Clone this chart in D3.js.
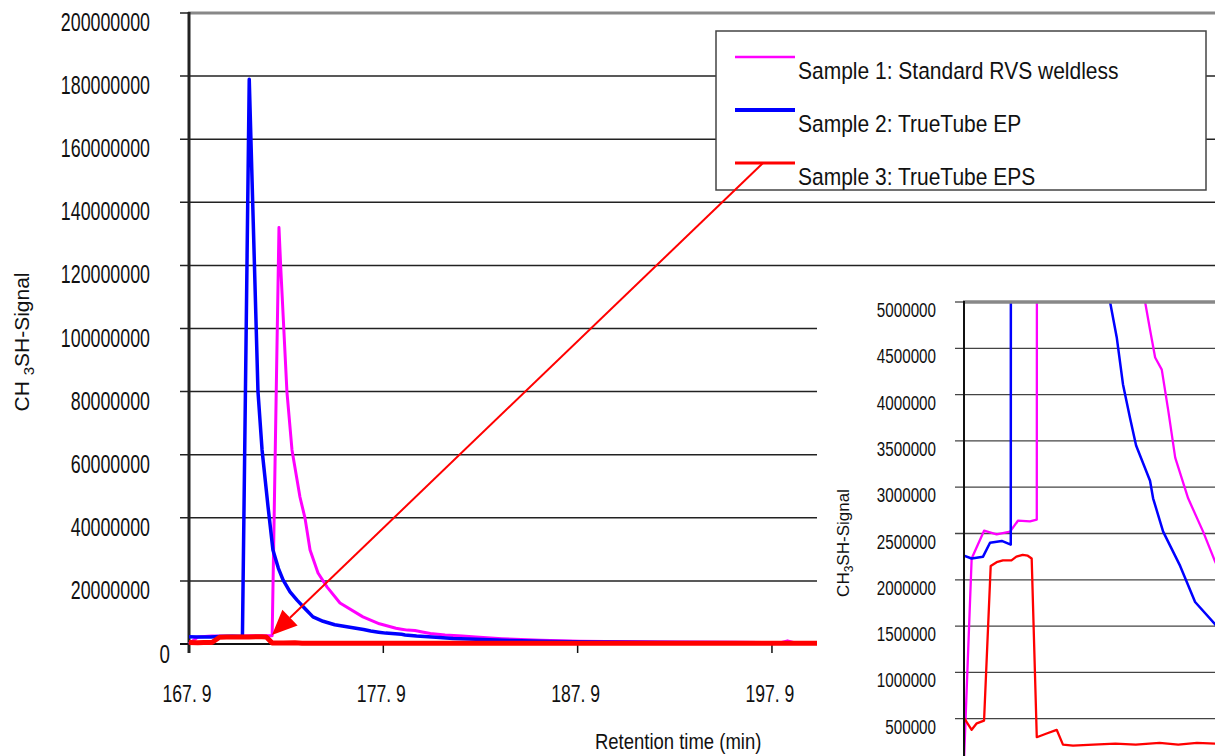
<!DOCTYPE html>
<html>
<head>
<meta charset="utf-8">
<script src="https://cdn.jsdelivr.net/npm/d3@7"></script>
<style>
body { margin: 0; background: #fff; }
text { font-family: "Liberation Sans", Arial, sans-serif; fill: #111; }
</style>
</head>
<body>
<div id="container"></div>
<script>
let w = 1215;
let h = 756;

let seriesNames = ["Sample 1: Standard RVS weldless", "Sample 2: TrueTube EP", "Sample 3: TrueTube EPS"];

// [retention time (min), CH3SH signal]
let sample1 = [
  [167.9, 50000], [168.35, 2230000], [169.08, 2530000], [169.82, 2490000], [170.61, 2520000],
  [171.08, 2640000], [171.78, 2630000], [172.18, 2650000], [172.53, 132000000], [172.62, 119500000],
  [172.94, 79900000], [173.2, 61500000], [173.61, 46600000], [173.87, 39900000], [174.13, 29800000],
  [174.54, 22500000], [175.0, 18100000], [175.67, 13000000], [176.85, 8600000], [177.7, 6400000],
  [178.55, 5000000], [178.84, 4700000], [179.14, 4400000], [179.53, 4270000], [179.91, 3830000],
  [180.32, 3320000], [181.08, 2880000], [181.96, 2520000], [182.66, 2200000], [184.0, 1700000],
  [186.0, 1200000], [188.0, 900000], [192.0, 650000], [196.0, 520000], [198.4, 500000],
  [198.7, 1000000], [199.0, 500000], [201.5, 450000]
];

let sample2 = [
  [167.9, 2260000], [168.35, 2230000], [169.02, 2250000], [169.43, 2400000], [170.12, 2420000],
  [170.65, 2380000], [171.0, 179000000], [171.45, 80000000], [171.66, 61500000], [171.97, 43400000],
  [172.22, 29800000], [172.5, 24000000], [172.74, 20300000], [173.1, 16500000], [173.46, 13900000],
  [173.9, 11000000], [174.28, 8600000], [174.8, 7200000], [175.4, 6100000], [176.49, 5000000],
  [176.88, 4620000], [177.25, 4110000], [177.66, 3750000], [178.02, 3450000], [178.84, 3070000],
  [179.02, 2880000], [179.61, 2520000], [180.61, 2150000], [181.49, 1760000], [182.66, 1520000],
  [184.5, 1100000], [186.5, 800000], [189.0, 600000], [193.0, 450000], [201.5, 380000]
];

let sample3 = [
  [167.9, 510000], [168.35, 380000], [168.65, 450000], [169.08, 480000], [169.47, 2150000],
  [169.82, 2190000], [170.19, 2210000], [170.69, 2210000], [170.98, 2250000], [171.35, 2270000],
  [171.65, 2260000], [171.88, 2230000], [172.18, 300000], [172.76, 340000], [173.35, 380000],
  [173.72, 220000], [174.31, 210000], [175.5, 220000], [176.8, 230000], [178.0, 220000],
  [179.4, 240000], [180.5, 220000], [181.6, 240000], [182.66, 230000], [186.0, 220000],
  [190.0, 220000], [195.0, 220000], [201.5, 220000]
];

let mainYTicks = [0, 20000000, 40000000, 60000000, 80000000, 100000000, 120000000, 140000000, 160000000, 180000000, 200000000];
let mainXTicks = [167.9, 177.9, 187.9, 197.9];
let insetYTicks = [500000, 1000000, 1500000, 2000000, 2500000, 3000000, 3500000, 4000000, 4500000, 5000000];

let colors = ["#ff00ff", "#0000ff", "#ff0000"];
let series = [sample1, sample2, sample3];

let svg = d3.select("#container").append("svg")
            .attr("width", w)
            .attr("height", h);

svg.append("rect").attr("width", w).attr("height", h).attr("fill", "#fff");

function label(sel, str, px, py, o) {
  return sel.append("text")
            .attr("transform", `translate(${px},${py})` + (o.rot ? ` rotate(${o.rot})` : "") + ` scale(${o.sx || 1},${o.sy || 1})`)
            .attr("text-anchor", o.anchor || "start")
            .style("font-size", o.size + "px")
            .text(str);
}

// ---- main chart ----
let x = d3.scaleLinear().domain([167.9, 220.7]).range([189, w]);
let y = d3.scaleLinear().domain([0, 200000000]).range([644, 13]);

let main = svg.append("g");

main.selectAll(".grid")
    .data(mainYTicks.filter(d => d > 0 && d < 200000000))
    .enter()
    .append("line")
    .attr("x1", 180).attr("x2", w)
    .attr("y1", d => y(d)).attr("y2", d => y(d))
    .attr("stroke", "#222")
    .attr("stroke-width", 1.5);

main.append("line")
    .attr("x1", 180).attr("x2", 189)
    .attr("y1", y(200000000)).attr("y2", y(200000000))
    .attr("stroke", "#222").attr("stroke-width", 1.5);

main.append("line")
    .attr("x1", 188).attr("x2", w)
    .attr("y1", y(200000000)).attr("y2", y(200000000))
    .attr("stroke", "#888").attr("stroke-width", 3);

main.append("line")
    .attr("x1", 180).attr("x2", w)
    .attr("y1", y(0)).attr("y2", y(0))
    .attr("stroke", "#111").attr("stroke-width", 2);

main.selectAll(".xtick")
    .data(mainXTicks)
    .enter()
    .append("line")
    .attr("x1", d => x(d)).attr("x2", d => x(d))
    .attr("y1", y(0)).attr("y2", y(0) + 9)
    .attr("stroke", "#111").attr("stroke-width", 1.5);

main.append("line")
    .attr("x1", 189).attr("x2", 189)
    .attr("y1", y(200000000) - 1).attr("y2", y(0) + 9)
    .attr("stroke", "#222").attr("stroke-width", 3);

mainYTicks.forEach(d => {
  if (d === 0) {
    label(main, "0", 170, y(d) + 19, {size: 22, sx: 0.85, sy: 1.14, anchor: "end"});
  } else {
    label(main, d3.format("d")(d), 150, y(d) + 18, {size: 22, sx: 0.81, sy: 1.14, anchor: "end"});
  }
});

mainXTicks.forEach(d => {
  label(main, d.toFixed(1).replace(".", ". "), x(d) - 2, 702, {size: 22, sx: 0.8, sy: 1.08, anchor: "middle"});
});

label(main, "Retention time (min)", 595, 749, {size: 22, sx: 0.84, sy: 1.02});

let yl = main.append("text")
             .attr("transform", "translate(29,342) rotate(-90)")
             .attr("text-anchor", "middle")
             .style("font-size", "21px");
yl.append("tspan").text("CH ");
yl.append("tspan").attr("dy", 5).style("font-size", "15px").text("3");
yl.append("tspan").attr("dy", -5).text("SH-Signal");

let line = d3.line()
             .x(d => x(d[0]))
             .y(d => y(d[1]));

let mainWidths = [3, 3.5, 5];
series.forEach((s, i) => {
  main.append("path")
      .datum(s)
      .attr("d", line)
      .attr("fill", "none")
      .attr("stroke", colors[i])
      .attr("stroke-width", mainWidths[i])
      .attr("stroke-linejoin", "round");
});

// ---- legend ----
let lg = svg.append("g");
lg.append("rect")
  .attr("x", 716).attr("y", 31)
  .attr("width", 490).attr("height", 159)
  .attr("fill", "#fff")
  .attr("stroke", "#444")
  .attr("stroke-width", 1.5);

let legendWidths = [2.5, 4, 3];
seriesNames.forEach((name, i) => {
  let ly = 57 + i * 53;
  lg.append("line")
    .attr("x1", 735).attr("x2", 795)
    .attr("y1", ly).attr("y2", ly)
    .attr("stroke", colors[i])
    .attr("stroke-width", legendWidths[i]);
  label(lg, name, 798, ly + 22, {size: 24, sx: 0.875, sy: 1.02});
});

// arrow from the legend down to the low baseline region
let start = [763, 57 + 2 * 53];
let tip = [x(172.17), y(2850000)];
let ang = Math.atan2(start[1] - tip[1], start[0] - tip[0]);
let base = [tip[0] + 25 * Math.cos(ang), tip[1] + 25 * Math.sin(ang)];
let nx = -Math.sin(ang) * 11, ny = Math.cos(ang) * 11;

svg.append("line")
   .attr("x1", start[0]).attr("y1", start[1])
   .attr("x2", base[0]).attr("y2", base[1])
   .attr("stroke", "#ff0000")
   .attr("stroke-width", 2);

svg.append("polygon")
   .attr("points", [tip, [base[0] + nx, base[1] + ny], [base[0] - nx, base[1] - ny]].map(p => p.join(",")).join(" "))
   .attr("fill", "#ff0000");

// ---- inset ----
let ix = d3.scaleLinear().domain([167.9, 182.66]).range([964, w]);
let iy = d3.scaleLinear().domain([0, 5000000]).range([765, 302]);

let inset = svg.append("g");

inset.append("rect")
     .attr("x", 817).attr("y", 290)
     .attr("width", w - 817).attr("height", h - 290)
     .attr("fill", "#fff");

inset.selectAll(".igrid")
     .data(insetYTicks.filter(d => d < 5000000))
     .enter()
     .append("line")
     .attr("x1", 955).attr("x2", w)
     .attr("y1", d => iy(d)).attr("y2", d => iy(d))
     .attr("stroke", "#444")
     .attr("stroke-width", 1.3);

insetYTicks.forEach(d => {
  label(inset, d3.format("d")(d), 936, iy(d) + 15, {size: 19, sx: 0.8, sy: 1.02, anchor: "end"});
});

let iyl = inset.append("text")
               .attr("transform", "translate(849,543) rotate(-90)")
               .attr("text-anchor", "middle")
               .style("font-size", "17px");
iyl.append("tspan").text("CH");
iyl.append("tspan").attr("dy", 4).style("font-size", "12px").text("3");
iyl.append("tspan").attr("dy", -4).text("SH-Signal");

svg.append("clipPath")
   .attr("id", "insetClip")
   .append("rect")
   .attr("x", 964).attr("y", 302)
   .attr("width", w - 964).attr("height", h - 302);

let iline = d3.line()
              .x(d => ix(d[0]))
              .y(d => iy(d[1]));

let insetWidths = [2.3, 2.5, 2.3];
series.forEach((s, i) => {
  inset.append("path")
       .datum(s)
       .attr("d", iline)
       .attr("clip-path", "url(#insetClip)")
       .attr("fill", "none")
       .attr("stroke", colors[i])
       .attr("stroke-width", insetWidths[i])
       .attr("stroke-linejoin", "round");
});

inset.append("line")
     .attr("x1", 955).attr("x2", 964)
     .attr("y1", iy(5000000)).attr("y2", iy(5000000))
     .attr("stroke", "#444").attr("stroke-width", 1.3);

inset.append("line")
     .attr("x1", 963).attr("x2", w)
     .attr("y1", iy(5000000)).attr("y2", iy(5000000))
     .attr("stroke", "#888").attr("stroke-width", 3.5);

inset.append("line")
     .attr("x1", 964).attr("x2", 964)
     .attr("y1", iy(5000000) - 1).attr("y2", h)
     .attr("stroke", "#111").attr("stroke-width", 2);
</script>
</body>
</html>
